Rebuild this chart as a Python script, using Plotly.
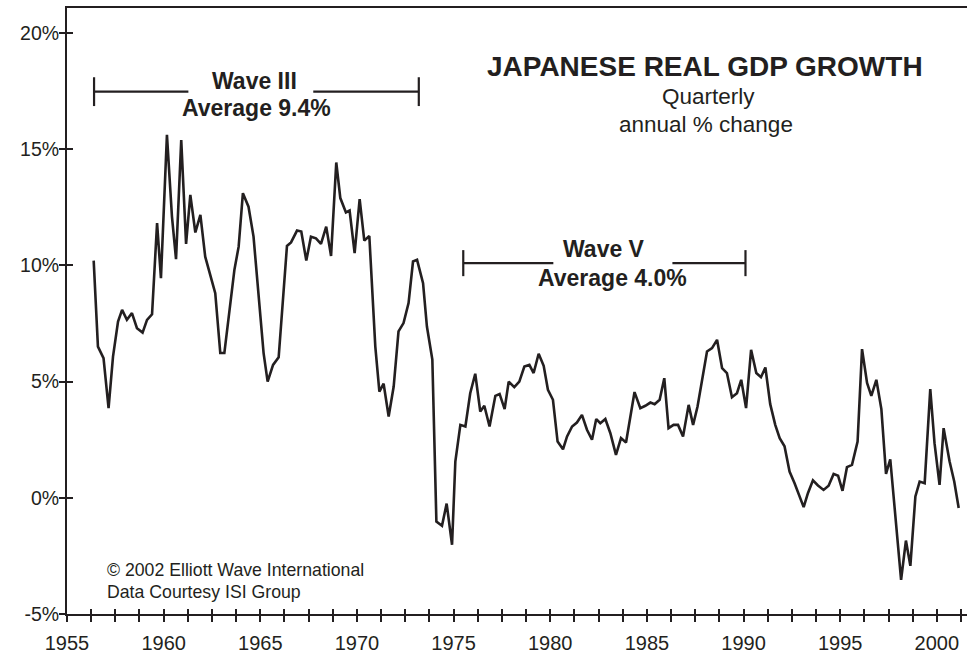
import plotly.graph_objects as go

# ---- data ----
years = [1956.38, 1956.60, 1956.89, 1957.15, 1957.38, 1957.64, 1957.85, 1958.10, 1958.36, 1958.62,
         1958.91, 1959.14, 1959.40, 1959.66, 1959.86, 1960.17, 1960.43, 1960.64, 1960.91, 1961.16,
         1961.38, 1961.64, 1961.90, 1962.15, 1962.67, 1962.93, 1963.14, 1963.66, 1963.88, 1964.10,
         1964.39, 1964.65, 1965.17, 1965.38, 1965.66, 1965.95, 1966.38, 1966.59, 1966.90, 1967.12,
         1967.38, 1967.62, 1967.88, 1968.14, 1968.41, 1968.66, 1968.93, 1969.14, 1969.43, 1969.62,
         1969.88, 1970.14, 1970.38, 1970.64, 1970.95, 1971.16, 1971.38, 1971.64, 1971.90, 1972.15,
         1972.41, 1972.67, 1972.90, 1973.11, 1973.42, 1973.62, 1973.90, 1974.11, 1974.40, 1974.64,
         1974.92, 1975.09, 1975.35, 1975.61, 1975.86, 1976.12, 1976.38, 1976.59, 1976.86, 1977.16,
         1977.38, 1977.64, 1977.85, 1978.14, 1978.40, 1978.66, 1978.92, 1979.14, 1979.40, 1979.66,
         1979.88, 1980.14, 1980.38, 1980.66, 1980.87, 1981.13, 1981.38, 1981.64, 1981.90, 1982.16,
         1982.38, 1982.59, 1982.85, 1983.11, 1983.40, 1983.66, 1983.92, 1984.36, 1984.66, 1984.92,
         1985.18, 1985.40, 1985.66, 1985.90, 1986.12, 1986.38, 1986.61, 1986.87, 1987.16, 1987.39,
         1987.62, 1988.11, 1988.37, 1988.63, 1988.89, 1989.14, 1989.40, 1989.66, 1989.88, 1990.13,
         1990.39, 1990.66, 1990.90, 1991.13, 1991.38, 1991.64, 1991.87, 1992.12, 1992.38, 1992.64,
         1993.11, 1993.33, 1993.59, 1993.85, 1994.14, 1994.40, 1994.66, 1994.89, 1995.12, 1995.35,
         1995.61, 1995.90, 1996.13, 1996.39, 1996.61, 1996.87, 1997.13, 1997.37, 1997.59, 1998.15,
         1998.40, 1998.63, 1998.89, 1999.11, 1999.37, 1999.66, 1999.88, 2000.14, 2000.35, 2000.66,
         2000.90, 2001.13]

gdp_growth = [10.21, 6.51, 6.01, 3.86, 6.08, 7.59, 8.09, 7.66, 7.95, 7.30,
              7.11, 7.66, 7.90, 11.82, 9.45, 15.62, 12.10, 10.27, 15.40, 10.93,
              13.04, 11.42, 12.18, 10.38, 8.81, 6.23, 6.23, 9.81, 10.81, 13.11,
              12.53, 11.24, 6.23, 5.00, 5.72, 6.05, 10.84, 10.99, 11.50, 11.46,
              10.21, 11.24, 11.17, 10.93, 11.67, 10.41, 14.43, 12.90, 12.28, 12.36,
              10.53, 12.85, 11.07, 11.27, 6.51, 4.57, 4.91, 3.50, 4.79, 7.16,
              7.52, 8.38, 10.17, 10.24, 9.24, 7.37, 5.95, -1.02, -1.20, -0.25,
              -2.02, 1.56, 3.14, 3.07, 4.50, 5.34, 3.71, 3.96, 3.07, 4.39,
              4.47, 3.82, 5.00, 4.76, 5.00, 5.65, 5.72, 5.37, 6.20, 5.68,
              4.65, 4.22, 2.42, 2.09, 2.64, 3.07, 3.24, 3.57, 2.93, 2.50,
              3.39, 3.21, 3.39, 2.78, 1.85, 2.57, 2.38, 4.55, 3.86, 3.96,
              4.10, 4.03, 4.22, 5.15, 3.00, 3.14, 3.14, 2.64, 4.00, 3.14,
              3.93, 6.30, 6.44, 6.80, 5.58, 5.37, 4.33, 4.50, 5.08, 3.86,
              6.37, 5.37, 5.19, 5.61, 4.03, 3.14, 2.57, 2.22, 1.13, 0.63,
              -0.40, 0.20, 0.75, 0.53, 0.34, 0.52, 1.03, 0.95, 0.30, 1.32,
              1.42, 2.42, 6.40, 4.94, 4.39, 5.08, 3.82, 1.03, 1.66, -3.53,
              -1.84, -2.93, 0.06, 0.70, 0.63, 4.68, 2.35, 0.56, 3.00, 1.56,
              0.70, -0.44]

y_tick_values = [-5, 0, 5, 10, 15, 20]
y_tick_labels = ["-5%", "0%", "5%", "10%", "15%", "20%"]

x_label_years = [1955, 1960, 1965, 1970, 1975, 1980, 1985, 1990, 1995, 2000]
x_tick_step = 1.25          # small ticks: four per five years
x_first_tick, x_last_tick = 1955, 2001.25

wave3 = {"start": 1956.4, "end": 1973.2, "label": "Wave III", "avg": "Average 9.4%"}
wave5 = {"start": 1975.5, "end": 1990.1, "label": "Wave V", "avg": "Average 4.0%"}

# ---- build tick arrays ----
n_ticks = int(round((x_last_tick - x_first_tick) / x_tick_step)) + 1
x_tick_pos = [x_first_tick + i * x_tick_step for i in range(n_ticks)]
x_tick_txt = [str(int(v)) if v in x_label_years else "" for v in x_tick_pos]

INK = "#231f20"
FONT = "Liberation Sans, Arial, Helvetica, sans-serif"

fig = go.Figure()
fig.add_trace(go.Scatter(x=years, y=gdp_growth, mode="lines",
                         line=dict(color=INK, width=2.6), showlegend=False, hoverinfo="skip"))
# invisible copy on overlay axes so that the inward halves of the ticks are drawn
fig.add_trace(go.Scatter(x=years, y=gdp_growth, mode="lines", xaxis="x2", yaxis="y2",
                         line=dict(color="rgba(0,0,0,0)", width=0), showlegend=False, hoverinfo="skip"))

XR = [1955, 2001.56]
YR = [-5, 21.08]

fig.update_layout(
    width=967, height=653,
    margin=dict(l=67, r=0, t=8, b=39, autoexpand=False),
    paper_bgcolor="white", plot_bgcolor="white",
    font=dict(family=FONT, color=INK),
    showlegend=False,
    xaxis=dict(range=XR, showgrid=False, zeroline=False, automargin=False,
               showline=True, linecolor=INK, linewidth=2, mirror=True,
               tickmode="array", tickvals=x_tick_pos, ticktext=x_tick_txt,
               ticks="outside", ticklen=6, tickwidth=2, tickcolor=INK,
               tickfont=dict(size=20, color=INK), ticklabelstandoff=4),
    xaxis2=dict(range=XR, overlaying="x", anchor="y", side="bottom", automargin=False,
                showgrid=False, zeroline=False, showline=False,
                tickmode="array", tickvals=x_tick_pos, showticklabels=False,
                ticks="inside", ticklen=5, tickwidth=2, tickcolor=INK),
    yaxis=dict(range=YR, showgrid=False, zeroline=False, automargin=False,
               showline=True, linecolor=INK, linewidth=2,
               tickmode="array", tickvals=y_tick_values, ticktext=y_tick_labels,
               ticks="outside", ticklen=6, tickwidth=2, tickcolor=INK,
               tickfont=dict(size=19.5, color=INK), ticklabelstandoff=-4),
    yaxis2=dict(range=YR, overlaying="y", anchor="x", side="left", automargin=False,
                showgrid=False, zeroline=False, showline=False,
                tickmode="array", tickvals=y_tick_values, showticklabels=False,
                ticks="inside", ticklen=6, tickwidth=2, tickcolor=INK),
)

# ---- wave brackets ----
def bracket(w, y, gap_left, gap_right, half_h):
    fig.add_shape(type="line", x0=w["start"], x1=gap_left, y0=y, y1=y,
                  line=dict(color=INK, width=2.2))
    fig.add_shape(type="line", x0=gap_right, x1=w["end"], y0=y, y1=y,
                  line=dict(color=INK, width=2.2))
    for xe in (w["start"], w["end"]):
        fig.add_shape(type="line", x0=xe, x1=xe, y0=y - half_h, y1=y + half_h,
                      line=dict(color=INK, width=2.2))

bracket(wave3, 17.48, 1961.28, 1967.74, 0.62)
bracket(wave5, 10.10, 1980.16, 1986.32, 0.56)

def txt(x, y, s, size, bold=False, xanchor="center"):
    fig.add_annotation(x=x, y=y, text=f"<b>{s}</b>" if bold else s, showarrow=False,
                       xanchor=xanchor, yanchor="middle",
                       font=dict(size=size, color=INK, family=FONT))

txt(1964.69, 17.96, wave3["label"], 23, bold=True)
txt(1964.79, 16.77, wave3["avg"], 23, bold=True)
txt(1982.80, 10.71, wave5["label"], 23, bold=True)
txt(1983.21, 9.46, wave5["avg"], 23, bold=True)

txt(1988.02, 18.55, "JAPANESE REAL GDP GROWTH", 28, bold=True)
txt(1988.18, 17.25, "Quarterly", 22.5)
txt(1988.07, 16.08, "annual % change", 22.5)

txt(1956.98, -3.107, "© 2002 Elliott Wave International", 17.7, xanchor="left")
txt(1956.98, -4.04, "Data Courtesy ISI Group", 17.7, xanchor="left")

fig.write_html("out.html",
               config={"displayModeBar": False},
               post_script="document.body.style.margin='0';document.body.style.padding='0';")
